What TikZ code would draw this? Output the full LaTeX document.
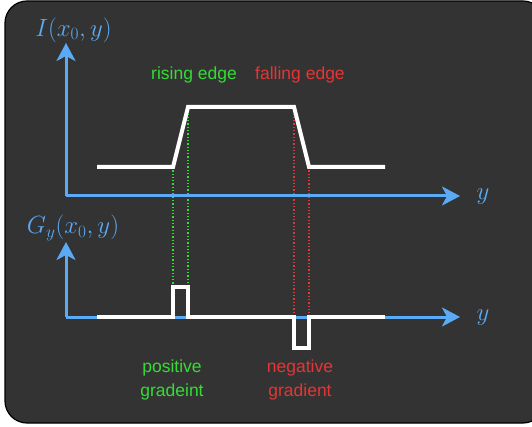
\documentclass[tikz,border=0pt]{standalone}
\usepackage{fontspec}
\setsansfont{Liberation Sans}
\usetikzlibrary{arrows.meta}
\definecolor{bgc}{HTML}{333333}
\definecolor{axc}{RGB}{90,170,245}
\definecolor{grc}{RGB}{51,221,51}
\definecolor{rdc}{RGB}{232,52,52}
\tikzset{
  axis/.style={draw=axc, line width=3pt, -{Stealth[length=18pt,width=19pt,inset=5pt]}},
  sig/.style={draw=white, line width=4pt},
  gdot/.style={draw=grc, line width=1.3pt, dotted},
  rdot/.style={draw=rdc, line width=1.3pt, dotted},
  lbl/.style={font=\sffamily\fontsize{17.5}{24}\selectfont, align=center, inner sep=0pt},
  mlbl/.style={text=axc, font=\fontsize{23}{27}\selectfont, inner sep=0pt}
}
\begin{document}
\begin{tikzpicture}[x=1pt,y=-1pt]
\useasboundingbox (0,0) rectangle (532,427);
\draw[fill=bgc, draw=black, line width=1.2pt, rounded corners=22pt] (5,1) rectangle (545,423);
% top graph coordinates
\coordinate (o1) at (66,196);
\coordinate (t1) at (66,43);
\coordinate (r1) at (460,196);
\coordinate (a0) at (97,167);
\coordinate (a1) at (173,167);
\coordinate (a2) at (188,107);
\coordinate (a3) at (294,107);
\coordinate (a4) at (309,167);
\coordinate (a5) at (385,167);
% bottom graph coordinates
\coordinate (o2) at (66,317);
\coordinate (t2) at (66,242);
\coordinate (r2) at (460,317);
\coordinate (b0) at (97,317);
\coordinate (b1) at (173,317);
\coordinate (b2) at (173,287);
\coordinate (b3) at (188,287);
\coordinate (b4) at (188,317);
\coordinate (b5) at (294,317);
\coordinate (b6) at (294,348);
\coordinate (b7) at (309,348);
\coordinate (b8) at (309,317);
\coordinate (b9) at (385,317);
% dotted guides
\draw[gdot] (a1) -- (b2);
\draw[gdot] (a2) -- (b3);
\draw[rdot] (a3) -- (b5);
\draw[rdot] (a4) -- (b8);
% axes
\draw[axis] (o1) -- (t1);
\draw[axis] (o1) -- (r1);
\draw[axis] (o2) -- (t2);
\draw[axis] (o2) -- (r2);
% signals
\draw[sig] (a0) -- (a1) -- (a2) -- (a3) -- (a4) -- (a5);
\draw[sig] (b0) -- (b1) -- (b2) -- (b3) -- (b4) -- (b5) -- (b6) -- (b7) -- (b8) -- (b9);
% labels
\node[mlbl] (l1) at (73.5,30) {$I(x_0,y)$};
\node[mlbl] (l2) at (73,228) {$G_y(x_0,y)$};
\node[mlbl] (ly1) at (483,197) {$y$};
\node[mlbl] (ly2) at (483,318) {$y$};
\node[lbl, text=grc] (re) at (194,75) {rising edge};
\node[lbl, text=rdc] (fe) at (300,75) {falling edge};
\node[lbl, text=grc] (pg) at (172,380) {positive\\gradeint};
\node[lbl, text=rdc] (ng) at (300,380) {negative\\gradient};
\end{tikzpicture}
\end{document}
